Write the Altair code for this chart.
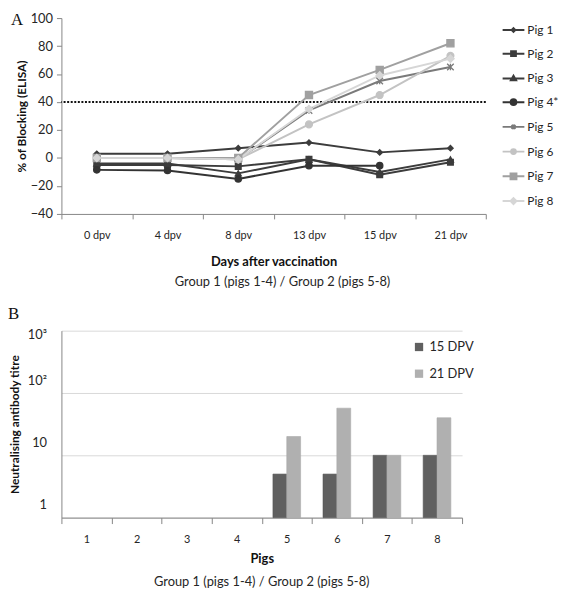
import altair as alt
import pandas as pd

# ---------------- Panel A data ----------------
dpv = ["0 dpv", "4 dpv", "8 dpv", "13 dpv", "15 dpv", "21 dpv"]
pigs = ["Pig 1", "Pig 2", "Pig 3", "Pig 4*", "Pig 5", "Pig 6", "Pig 7", "Pig 8"]
pig1 = [3, 3, 7, 11, 4, 7]
pig2 = [-5, -5, -6, -1, -12, -3]
pig3 = [-4, -4, -11, -1, -10, -1]
pig4 = [-8.5, -9, -15, -5.5, -5.5, None]
pig5 = [0, 0, -1, 34, 55, 65]
pig6 = [0, 0, -1, 24, 45, 73]
pig7 = [0, 0, 0, 45, 63, 82]
pig8 = [0, 0, -1, 35, 59, 71]
threshold = [40]

# ---------------- Panel B data ----------------
pig_numbers = ["1", "2", "3", "4", "5", "6", "7", "8"]
series_b = ["15 DPV", "21 DPV"]
titre_15 = [None, None, None, None, 5, 5, 10, 10]
titre_21 = [None, None, None, None, 20, 57, 10, 40]
baseline_b = [1]

# ---------------- styles ----------------
FONT = "Lato"
TXT = "#262626"
AXC = "#868686"
line_colors = ["#3c3c3c", "#3c3c3c", "#3c3c3c", "#333333",
               "#7a7a7a", "#c3c3c3", "#a0a0a0", "#d6d6d6"]
shapes = ["diamond", "square", "triangle-up", "circle",
          "M-1,-1L1,1M-1,1L1,-1M0,-1L0,1", "circle", "square", "diamond"]
sizes = [30, 55, 55, 75, 45, 55, 95, 90]
LINE = "M-1,0L1,0"
legend_shapes = [
    LINE + "M0,-0.17L0.17,0L0,0.17L-0.17,0Z",
    LINE + "M-0.22,-0.22L0.22,-0.22L0.22,0.22L-0.22,0.22Z",
    LINE + "M0,-0.24L0.24,0.18L-0.24,0.18Z",
    LINE + "M-0.26,0A0.26,0.26,0,1,0,0.26,0A0.26,0.26,0,1,0,-0.26,0Z",
    LINE + "M-0.18,-0.18L0.18,0.18M-0.18,0.18L0.18,-0.18M0,-0.22L0,0.22",
    LINE + "M-0.22,0A0.22,0.22,0,1,0,0.22,0A0.22,0.22,0,1,0,-0.22,0Z",
    LINE + "M-0.27,-0.27L0.27,-0.27L0.27,0.27L-0.27,0.27Z",
    LINE + "M0,-0.27L0.27,0L0,0.27L-0.27,0Z",
]

rows = []
for name, vals in zip(pigs, [pig1, pig2, pig3, pig4, pig5, pig6, pig7, pig8]):
    for d, v in zip(dpv, vals):
        rows.append({"pig": name, "dpv": d, "value": v})
dfA = pd.DataFrame(rows)

x_a = alt.X("dpv:N", sort=dpv,
            scale=alt.Scale(type="band", domain=dpv, paddingInner=0, paddingOuter=0),
            axis=alt.Axis(title="Days after vaccination", labelAngle=0, tickBand="extent",
                          domainColor=AXC, tickColor=AXC, tickSize=5, labelPadding=11,
                          labelFontSize=11, labelColor=TXT, titleFontSize=13,
                          titleFontWeight="bold", titleColor="#111", titlePadding=15))
y_a = alt.Y("value:Q", scale=alt.Scale(domain=[-40, 100], nice=False),
            axis=alt.Axis(title="% of Blocking (ELISA)", values=[-40, -20, 0, 20, 40, 60, 80, 100],
                          grid=False, domainColor=AXC, tickColor=AXC, tickSize=5,
                          labelPadding=4, labelFontSize=13, labelColor=TXT,
                          titleFontSize=12, titleFontWeight="bold", titleColor="#111",
                          titlePadding=2))

col_scale = alt.Scale(domain=pigs, range=line_colors)

rule = alt.Chart(pd.DataFrame({"value": threshold})).mark_rule(
    color="#111", strokeWidth=2, strokeDash=[2, 1.6]).encode(y=y_a)

lines = alt.Chart(dfA).mark_line(strokeWidth=2).encode(
    x=x_a, y=y_a, color=alt.Color("pig:N", scale=col_scale, legend=None),
    detail="pig:N")

points = alt.Chart(dfA).mark_point(filled=True, opacity=1, strokeWidth=1.3).encode(
    x=x_a, y=y_a,
    color=alt.Color("pig:N", scale=col_scale, legend=None),
    stroke=alt.Stroke("pig:N", scale=col_scale, legend=None),
    shape=alt.Shape("pig:N", scale=alt.Scale(domain=pigs, range=shapes), legend=None),
    size=alt.Size("pig:N", scale=alt.Scale(domain=pigs, range=sizes), legend=None))

leg = alt.Legend(title=None, symbolSize=484, symbolStrokeWidth=2, symbolOpacity=1,
                 labelFontSize=12, labelFont=FONT, labelColor=TXT, rowPadding=6,
                 offset=16, labelOffset=2)
legend_layer = alt.Chart(dfA).mark_point(filled=True, opacity=0).encode(
    x=x_a, y=y_a,
    color=alt.Color("pig:N", scale=col_scale, legend=leg),
    stroke=alt.Stroke("pig:N", scale=col_scale, legend=leg),
    shape=alt.Shape("pig:N", scale=alt.Scale(domain=pigs, range=legend_shapes), legend=leg))

letter_a = alt.Chart(pd.DataFrame({"t": ["A"]})).mark_text(
    font="Liberation Serif", fontSize=17, align="left", baseline="top", color="#111").encode(
    text="t:N", x=alt.value(-51), y=alt.value(-6))

chartA = alt.layer(rule, lines, points, legend_layer, letter_a).resolve_scale(
    color="independent", stroke="independent", shape="independent", size="independent"
).properties(
    width=429, height=198,
    title=alt.TitleParams("Group 1 (pigs 1-4) / Group 2 (pigs 5-8)", orient="bottom",
                          fontSize=13, fontWeight="normal", font=FONT, color=TXT,
                          offset=8, dx=9))

# ---------------- Panel B ----------------
rowsB = []
for p, a, b in zip(pig_numbers, titre_15, titre_21):
    rowsB.append({"pig": p, "series": series_b[0], "titre": a})
    rowsB.append({"pig": p, "series": series_b[1], "titre": b})
dfB = pd.DataFrame(rowsB)

bars = alt.Chart(dfB).mark_bar(strokeWidth=0.6).encode(
    x=alt.X("pig:N", sort=pig_numbers,
            scale=alt.Scale(domain=pig_numbers, paddingInner=0, paddingOuter=0),
            axis=alt.Axis(title="Pigs", labelAngle=0, tickBand="extent", domainColor=AXC,
                          tickColor=AXC, tickSize=6, labelPadding=10, labelFontSize=11,
                          labelColor=TXT, titleFontSize=13, titleFontWeight="bold",
                          titleColor="#111", titlePadding=8)),
    xOffset=alt.XOffset("series:N", sort=series_b,
                        scale=alt.Scale(domain=series_b, paddingOuter=0.81, paddingInner=0)),
    y=alt.Y("titre:Q", scale=alt.Scale(type="log", domain=[1, 1000], nice=False),
            axis=alt.Axis(title="Neutralising antibody titre", values=[1, 10, 100, 1000],
                          labelExpr="datum.value == 1000 ? '10³' : datum.value == 100 ? '10²' : datum.label",
                          labelOffset={"condition": {"test": "datum.value == 1000", "value": 4},
                                       "value": -13},
                          grid=True, gridColor="#d9d9d9", tickSize=0, domainColor=AXC,
                          labelPadding=15, labelFontSize=13, labelColor=TXT,
                          titleFontSize=12, titleFontWeight="bold", titleColor="#111",
                          titlePadding=6)),
    y2=alt.datum(baseline_b[0]),
    color=alt.Color("series:N", sort=series_b,
                    scale=alt.Scale(domain=series_b, range=["#606060", "#b0b0b0"]),
                    legend=alt.Legend(title=None, orient="none", legendX=355, legendY=326,
                                      symbolType="square", symbolSize=70, labelFontSize=13,
                                      labelFont=FONT, labelColor=TXT, rowPadding=13,
                                      symbolStrokeWidth=0)),
    stroke=alt.Stroke("series:N", sort=series_b,
                      scale=alt.Scale(domain=series_b, range=["#555555", "#a8a8a8"]),
                      legend=None))

letter_b = alt.Chart(pd.DataFrame({"t": ["B"]})).mark_text(
    font="Liberation Serif", fontSize=17, align="left", baseline="middle", color="#111").encode(
    text="t:N", x=alt.value(-54), y=alt.value(-17))

chartB = alt.layer(bars, letter_b).properties(
    width=405, height=189,
    title=alt.TitleParams("Group 1 (pigs 1-4) / Group 2 (pigs 5-8)", orient="bottom",
                          fontSize=13, fontWeight="normal", font=FONT, color=TXT,
                          offset=11))

chart = alt.vconcat(chartA, chartB, spacing=16).properties(padding=0).configure(
    font=FONT).configure_view(stroke=None).configure_axis(labelFont=FONT, titleFont=FONT)

chart.save("out.html", embed_options={"renderer": "svg", "actions": False})
